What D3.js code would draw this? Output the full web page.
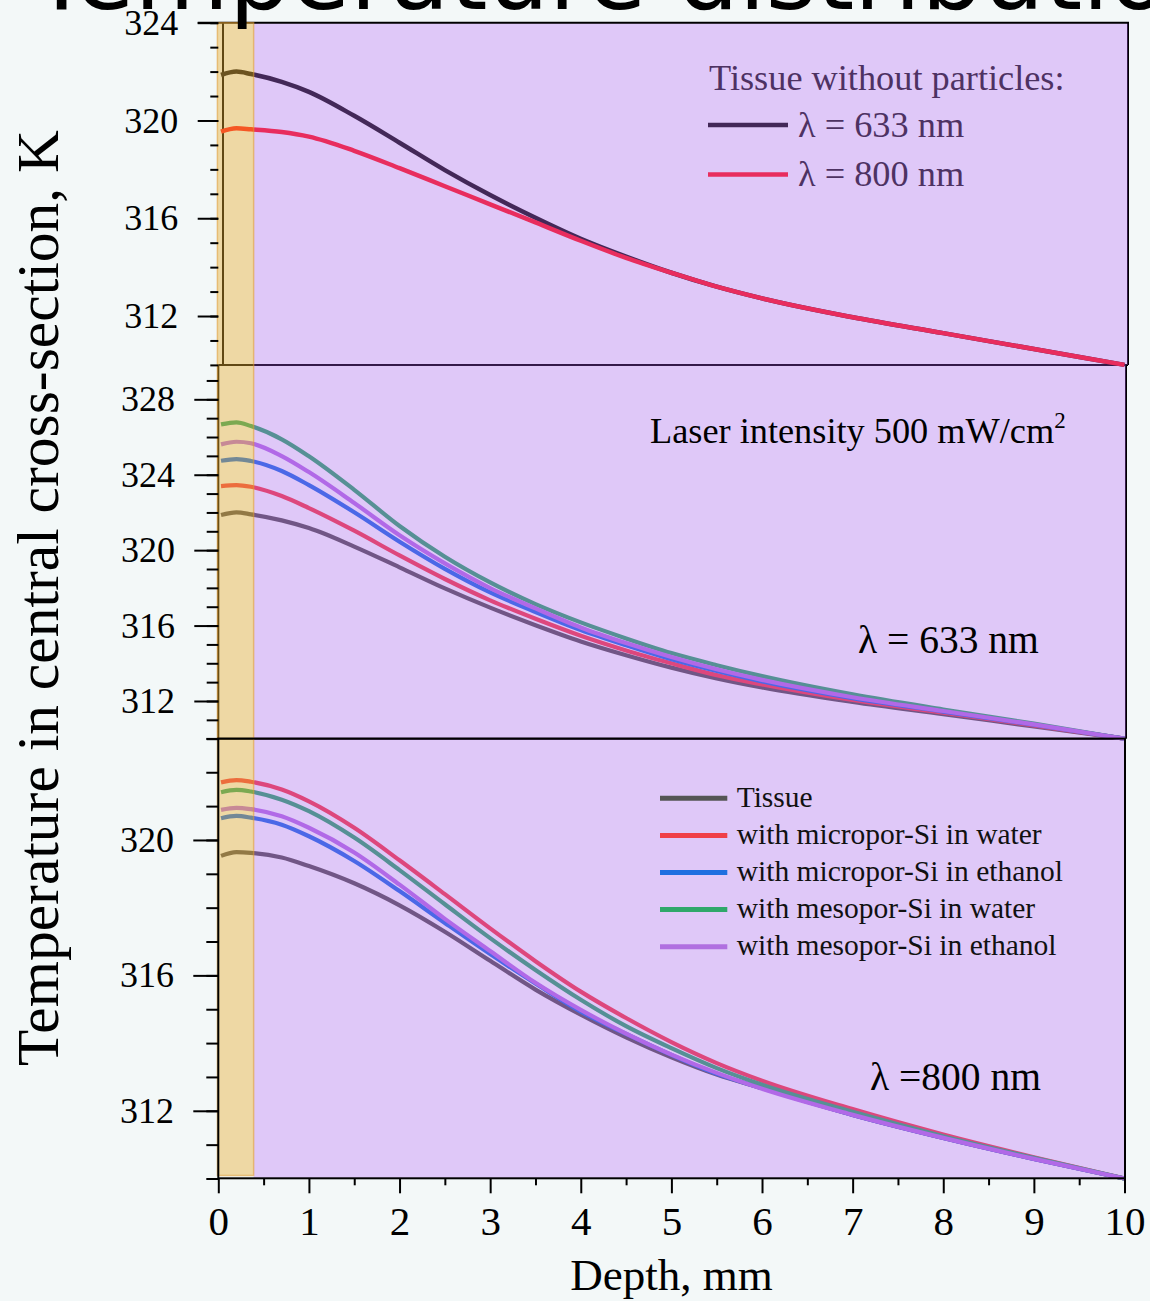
<!DOCTYPE html>
<html>
<head>
<meta charset="utf-8">
<script src="https://cdn.jsdelivr.net/npm/d3@7"></script>
<style>
  html, body { margin: 0; padding: 0; background: #f3f8f8; overflow: hidden; }
  svg { display: block; }
</style>
</head>
<body>
<svg id="chart" width="1150" height="1301"></svg>
<script>
// Depth grid (mm) shared by every curve
const depth = [0.03, 0.2, 0.36, 0.7, 1, 1.5, 2, 2.5, 3, 3.5, 4, 4.5, 5, 5.5, 6, 7, 8, 9, 10];

// Tissue without particles (K)
const tissue633 = [321.86, 322.00, 321.90, 321.58, 321.17, 320.19, 319.09, 317.97, 316.95, 316.02, 315.16, 314.43, 313.77, 313.20, 312.72, 311.95, 311.30, 310.65, 310.00];
const top800    = [319.54, 319.68, 319.64, 319.53, 319.34, 318.76, 318.05, 317.31, 316.57, 315.83, 315.08, 314.38, 313.77, 313.20, 312.72, 311.95, 311.30, 310.65, 310.00];

// λ = 633 nm, with particles (K)
const microWater633   = [323.40, 323.45, 323.36, 322.87, 322.23, 321.03, 319.72, 318.47, 317.34, 316.36, 315.46, 314.68, 314.00, 313.37, 312.88, 312.05, 311.38, 310.71, 310.00];
const microEthanol633 = [324.74, 324.83, 324.73, 324.20, 323.45, 322.01, 320.45, 319.01, 317.76, 316.72, 315.76, 314.95, 314.21, 313.59, 313.04, 312.15, 311.44, 310.74, 310.00];
const mesoWater633    = [326.67, 326.78, 326.58, 325.88, 324.98, 323.20, 321.28, 319.65, 318.29, 317.14, 316.17, 315.32, 314.54, 313.90, 313.32, 312.35, 311.55, 310.80, 310.00];
const mesoEthanol633  = [325.61, 325.75, 325.67, 324.99, 324.14, 322.50, 320.79, 319.30, 317.99, 316.91, 315.90, 315.07, 314.33, 313.68, 313.12, 312.20, 311.47, 310.76, 310.00];

// λ = 800 nm (K)
const tissue800       = [319.53, 319.64, 319.62, 319.48, 319.23, 318.72, 318.07, 317.29, 316.43, 315.58, 314.84, 314.17, 313.58, 313.07, 312.67, 311.88, 311.20, 310.58, 310.00];
const microWater800   = [321.70, 321.77, 321.72, 321.49, 321.14, 320.36, 319.40, 318.40, 317.39, 316.42, 315.52, 314.74, 314.03, 313.41, 312.89, 312.05, 311.30, 310.63, 310.00];
const microEthanol800 = [320.64, 320.71, 320.66, 320.45, 320.11, 319.38, 318.49, 317.55, 316.63, 315.76, 314.93, 314.27, 313.65, 313.09, 312.67, 311.88, 311.20, 310.58, 310.00];
const mesoWater800    = [321.41, 321.48, 321.43, 321.19, 320.85, 320.07, 319.11, 318.10, 317.10, 316.16, 315.28, 314.50, 313.85, 313.26, 312.77, 311.97, 311.25, 310.61, 310.00];
const mesoEthanol800  = [320.89, 320.95, 320.91, 320.70, 320.36, 319.63, 318.68, 317.67, 316.72, 315.78, 314.98, 314.28, 313.66, 313.12, 312.65, 311.88, 311.20, 310.58, 310.00];

// Labels
const seriesNames = ["Tissue", "with micropor-Si in water", "with micropor-Si in ethanol", "with mesopor-Si in water", "with mesopor-Si in ethanol"];
const seriesColors = ["#555555", "#f04048", "#1f6fe0", "#2fa86a", "#b070e0"];
const wavelengthNames = ["λ = 633 nm", "λ = 800 nm"];
const wavelengthColors = ["#141414", "#ff1a1c"];
const xTicks = [0, 1, 2, 3, 4, 5, 6, 7, 8, 9, 10];
const particleBand = [-0.01, 0.39];   // depth range of the particle layer

const serif = '"Liberation Serif", "Times New Roman", serif';
const svg = d3.select("#chart");

const x = d3.scaleLinear().domain([0, 10]).range([218.3, 1124.5]);

const panels = [
  { domain: [310, 324], range: [364.9, 22.7], frame: { l: 223, r: 1128, t: 22.7, b: 364.9 },
    majors: [312, 316, 320, 324], tick: [20.6, 8], pad: 19.4, lw: 4.5,
    series: [tissue633, top800].map((v, i) => ({ values: v, color: wavelengthColors[i] })) },
  { domain: [310, 330], range: [738.7, 361.6], frame: { l: 218.3, r: 1126, t: 364.9, b: 738.7 },
    majors: [312, 316, 320, 324, 328], tick: [24, 11.6], pad: 19.3, lw: 4.2,
    series: [tissue633, microWater633, microEthanol633, mesoWater633, mesoEthanol633].map((v, i) => ({ values: v, color: seriesColors[i] })) },
  { domain: [310, 323], range: [1178.5, 738.4], frame: { l: 218.3, r: 1125, t: 738.6, b: 1178.3 },
    majors: [312, 316, 320], tick: [25, 12], pad: 19.3, lw: 4.2,
    series: [tissue800, microWater800, microEthanol800, mesoWater800, mesoEthanol800].map((v, i) => ({ values: v, color: seriesColors[i] })) }
];

panels.forEach(p => { p.y = d3.scaleLinear().domain(p.domain).range(p.range); });

const under = svg.append("g");
const overlay = svg.append("g");
const above = svg.append("g");

// Frames beneath the tinted layers (top and middle panels)
[panels[0], panels[1]].forEach(p => {
  const f = p.frame;
  const g = under.append("g").attr("stroke", "#000").attr("stroke-width", 2).attr("fill", "none");
  g.append("line").attr("x1", f.l).attr("x2", f.l).attr("y1", f.t).attr("y2", f.b);
  g.append("line").attr("x1", f.r).attr("x2", f.r).attr("y1", f.t).attr("y2", f.b);
  g.append("line").attr("x1", 218.3).attr("x2", f.r).attr("y1", f.b).attr("y2", f.b);
});

// Temperature curves
panels.forEach(p => {
  const line = d3.line()
    .x((d, i) => x(depth[i]))
    .y(d => p.y(d))
    .curve(d3.curveMonotoneX);
  under.append("g").selectAll("path")
    .data(p.series)
    .join("path")
    .attr("d", s => line(s.values))
    .attr("fill", "none")
    .attr("stroke", s => s.color)
    .attr("stroke-width", p.lw)
    .attr("stroke-linejoin", "round");
});

// Legend of the top panel (sits under the tint)
{
  const g = under.append("g").attr("font-family", serif).attr("font-size", 36.3).attr("fill", "#222");
  g.append("text").attr("x", 709).attr("y", 90).text("Tissue without particles:");
  wavelengthNames.forEach((name, i) => {
    const yy = 125 + i * 49.5;
    g.append("line").attr("x1", 708).attr("x2", 788).attr("y1", yy).attr("y2", yy)
      .attr("stroke", wavelengthColors[i]).attr("stroke-width", 4.5);
    g.append("text").attr("x", 798).attr("y", yy + 11.7).text(name);
  });
}

// Lavender tint over each plotting area
panels.forEach(p => {
  const f = p.frame;
  overlay.append("rect")
    .attr("x", x(particleBand[1])).attr("y", f.t)
    .attr("width", f.r - x(particleBand[1])).attr("height", f.b - f.t)
    .attr("fill", "#b35afa").attr("fill-opacity", 0.3);
});

// Top border of the top panel
overlay.append("line").attr("x1", 197.7).attr("x2", 1129).attr("y1", 22.7).attr("y2", 22.7)
  .attr("stroke", "#000").attr("stroke-width", 2);

// Particle layer band
overlay.append("rect")
  .attr("x", x(particleBand[0])).attr("y", 22.7)
  .attr("width", x(particleBand[1]) - x(particleBand[0])).attr("height", 1175.5 - 22.7)
  .attr("fill", "#e7ab30").attr("fill-opacity", 0.42)
  .attr("stroke", "#e09a30").attr("stroke-opacity", 0.55).attr("stroke-width", 1.5);

// Bottom panel frame
{
  const f = panels[2].frame;
  above.append("rect").attr("x", f.l).attr("y", f.t).attr("width", f.r - f.l).attr("height", f.b - f.t)
    .attr("fill", "none").attr("stroke", "#000").attr("stroke-width", 2);
}

// Y axes
panels.forEach(p => {
  const minor = d3.range(p.domain[0], p.domain[1] + 0.001, 1).filter(v => v <= p.y.invert(p.frame.t) + 0.01);
  const gMinor = above.append("g").attr("transform", "translate(218.3,0)")
    .call(d3.axisLeft(p.y).tickValues(minor).tickSize(p.tick[1]).tickFormat(""));
  const gMajor = above.append("g").attr("transform", "translate(218.3,0)")
    .call(d3.axisLeft(p.y).tickValues(p.majors).tickSize(p.tick[0]).tickPadding(p.pad).tickFormat(d3.format("d")));
  [gMinor, gMajor].forEach(g => {
    g.select(".domain").remove();
    g.selectAll("line").attr("stroke", "#000").attr("stroke-width", 2);
  });
  gMajor.selectAll("text").attr("font-family", serif).attr("font-size", 36).attr("fill", "#000").attr("dy", "0.32em");
});

// X axis
{
  const gMinor = above.append("g").attr("transform", "translate(0,1178.3)")
    .call(d3.axisBottom(x).tickValues(d3.range(0.5, 10, 1)).tickSize(7).tickFormat(""));
  const gMajor = above.append("g").attr("transform", "translate(0,1178.3)")
    .call(d3.axisBottom(x).tickValues(xTicks).tickSize(15).tickFormat(d3.format("d")));
  [gMinor, gMajor].forEach(g => {
    g.select(".domain").remove();
    g.selectAll("line").attr("stroke", "#000").attr("stroke-width", 2);
  });
  gMajor.selectAll("text").attr("font-family", serif).attr("font-size", 41).attr("fill", "#000")
    .attr("y", 56.7).attr("dy", 0);
}

// Annotations
{
  const g = above.append("g").attr("font-family", serif).attr("fill", "#000");
  const t = g.append("text").attr("x", 650).attr("y", 442.7).attr("font-size", 36.3).text("Laser intensity 500 mW/cm");
  t.append("tspan").attr("dy", -15).attr("font-size", 23).text("2");
  g.append("text").attr("x", 858).attr("y", 653).attr("font-size", 39.5).text(wavelengthNames[0]);
  g.append("text").attr("x", 870).attr("y", 1090).attr("font-size", 39.5).text("λ =800 nm");
}

// Legend of the particle series
{
  const g = above.append("g").attr("font-family", serif).attr("font-size", 29.5).attr("fill", "#111");
  seriesNames.forEach((name, i) => {
    const yy = 798.3 + i * 37.1;
    g.append("line").attr("x1", 660).attr("x2", 727.3).attr("y1", yy).attr("y2", yy)
      .attr("stroke", seriesColors[i]).attr("stroke-width", 5);
    g.append("text").attr("x", 736.7).attr("y", yy + 8.4).text(name);
  });
}

// Axis titles
above.append("text")
  .attr("transform", "translate(58,598) rotate(-90)")
  .attr("text-anchor", "middle")
  .attr("font-family", serif).attr("font-size", 59.5).attr("fill", "#000")
  .text("Temperature in central cross-section, K");

above.append("text")
  .attr("x", 671.5).attr("y", 1290)
  .attr("text-anchor", "middle")
  .attr("font-family", serif).attr("font-size", 45).attr("fill", "#000")
  .text("Depth, mm");

// Heading
above.append("text")
  .attr("x", 32).attr("y", 8.5)
  .attr("font-family", '"DejaVu Sans", sans-serif').attr("font-size", 97).attr("fill", "#000")
  .text("Temperature distribution");
</script>
</body>
</html>
